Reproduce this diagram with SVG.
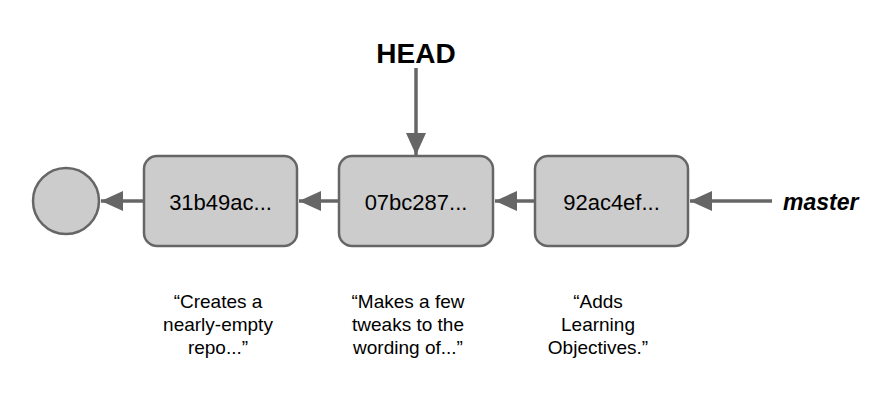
<svg xmlns="http://www.w3.org/2000/svg" width="894" height="407" viewBox="0 0 894 407">
<defs>
<style>
.node{fill:#cccccc;stroke:#666666;stroke-width:2.5}
.conn{stroke:#666666;stroke-width:3.5;fill:none}
.hash{font-family:"Liberation Sans",Arial,sans-serif;font-size:22px;fill:#000;text-anchor:middle}
.msg{font-family:"Liberation Sans",Arial,sans-serif;font-size:19px;fill:#000;text-anchor:middle}
.ref{font-family:"Liberation Sans",Arial,sans-serif;font-weight:bold;fill:#000}
</style>
<marker id="ah" viewBox="0 0 22 20" refX="22" refY="10" markerWidth="22" markerHeight="20" markerUnits="userSpaceOnUse" orient="auto">
<path d="M0,0 L22,10 L0,20 Z" fill="#666666"/>
</marker>
</defs>
<rect width="894" height="407" fill="#ffffff"/>
<g id="connectors">
<line class="conn" x1="144" y1="201" x2="101" y2="201" marker-end="url(#ah)"/>
<line class="conn" x1="339" y1="201" x2="299" y2="201" marker-end="url(#ah)"/>
<line class="conn" x1="535" y1="201" x2="495" y2="201" marker-end="url(#ah)"/>
<line class="conn" x1="772" y1="201" x2="690" y2="201" marker-end="url(#ah)"/>
<line class="conn" x1="416" y1="68" x2="416" y2="155" marker-end="url(#ah)"/>
</g>
<g id="root">
<circle class="node" cx="66" cy="201" r="33"/>
</g>
<g id="c31b49ac">
<rect class="node" x="144" y="156" width="153" height="90" rx="13"/>
<text class="hash" x="220.5" y="210">31b49ac...</text>
</g>
<g id="c07bc287">
<rect class="node" x="339" y="156" width="154" height="90" rx="13"/>
<text class="hash" x="416" y="210">07bc287...</text>
</g>
<g id="c92ac4ef">
<rect class="node" x="535" y="156" width="153" height="90" rx="13"/>
<text class="hash" x="611.5" y="210">92ac4ef...</text>
</g>
<g id="head">
<text class="ref" x="416" y="63" font-size="28" text-anchor="middle">HEAD</text>
</g>
<g id="master">
<text class="ref" x="783" y="210" font-size="23" font-style="italic">master</text>
</g>
<g id="msg1">
<text class="msg" x="218" y="308">“Creates a</text>
<text class="msg" x="218" y="331">nearly-empty</text>
<text class="msg" x="218" y="354">repo...”</text>
</g>
<g id="msg2">
<text class="msg" x="408" y="308">“Makes a few</text>
<text class="msg" x="408" y="331">tweaks to the</text>
<text class="msg" x="408" y="354">wording of...”</text>
</g>
<g id="msg3">
<text class="msg" x="598" y="308">“Adds</text>
<text class="msg" x="598" y="331">Learning</text>
<text class="msg" x="598" y="354">Objectives.”</text>
</g>
</svg>
